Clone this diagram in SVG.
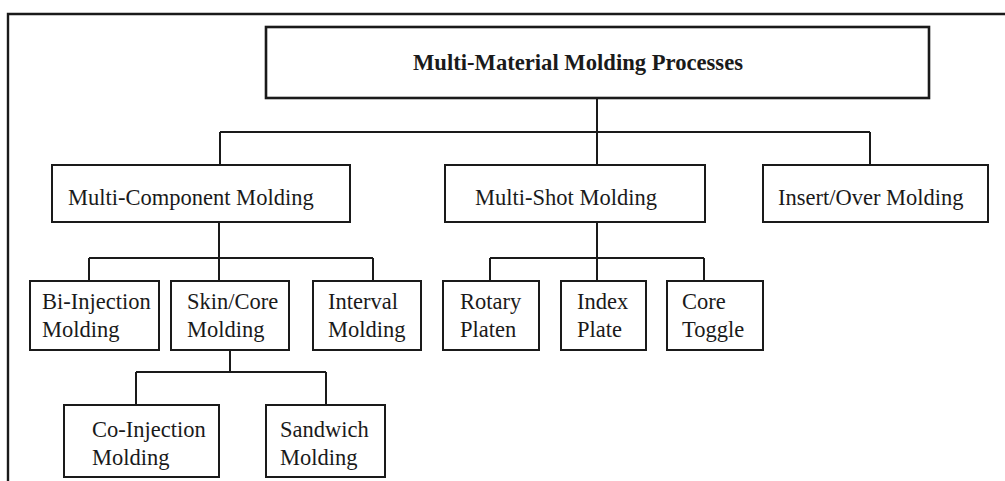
<svg xmlns="http://www.w3.org/2000/svg" width="1005" height="481" viewBox="0 0 1005 481">
  <style>
    .box { fill: #ffffff; stroke: #1a1a1a; stroke-width: 2; }
    .title-box { fill: #ffffff; stroke: #1a1a1a; stroke-width: 2.6; }
    .wire { fill: none; stroke: #1a1a1a; stroke-width: 2; }
    .frame { fill: none; stroke: #1a1a1a; stroke-width: 2.4; }
    .label { font-family: "Liberation Serif", "Times New Roman", serif; font-size: 22.5px; fill: #1a1a1a; }
    .title { font-family: "Liberation Serif", "Times New Roman", serif; font-size: 24px; font-weight: bold; fill: #1a1a1a; }
  </style>
  <rect width="1005" height="481" fill="#ffffff"/>

  <!-- outer frame (top and left edges only) -->
  <path class="frame" d="M8,481 V14 H1005"/>

  <!-- connectors -->
  <g id="connectors">
    <path class="wire" d="M597,98 V132 M220,132 H870 M220,132 V165 M597,132 V165 M870,132 V165"/>
    <path class="wire" d="M219,222 V258 M89,258 H373 M89,258 V281 M219,258 V281 M373,258 V281"/>
    <path class="wire" d="M597,222 V258 M490,258 H704 M490,258 V281 M597,258 V281 M704,258 V281"/>
    <path class="wire" d="M230,350 V372 M136,372 H326 M136,372 V405 M326,372 V405"/>
  </g>

  <!-- root -->
  <g id="node-root">
    <rect class="title-box" x="266" y="27" width="663" height="71"/>
    <text class="title" x="413" y="70" textLength="330" lengthAdjust="spacingAndGlyphs">Multi-Material Molding Processes</text>
  </g>

  <!-- first level -->
  <g id="node-multi-component">
    <rect class="box" x="52" y="165" width="298" height="57"/>
    <text class="label" x="68" y="205">Multi-Component Molding</text>
  </g>
  <g id="node-multi-shot">
    <rect class="box" x="445" y="165" width="260" height="57"/>
    <text class="label" x="475" y="205">Multi-Shot Molding</text>
  </g>
  <g id="node-insert-over">
    <rect class="box" x="763" y="165" width="225" height="57"/>
    <text class="label" x="778" y="205">Insert/Over Molding</text>
  </g>

  <!-- second level -->
  <g id="node-bi-injection">
    <rect class="box" x="30" y="281" width="129" height="69"/>
    <text class="label" x="42" y="308.5">Bi-Injection<tspan x="42" y="336.5">Molding</tspan></text>
  </g>
  <g id="node-skin-core">
    <rect class="box" x="171" y="281" width="118" height="69"/>
    <text class="label" x="187" y="308.5">Skin/Core<tspan x="187" y="336.5">Molding</tspan></text>
  </g>
  <g id="node-interval">
    <rect class="box" x="313" y="281" width="108" height="69"/>
    <text class="label" x="328" y="308.5">Interval<tspan x="328" y="336.5">Molding</tspan></text>
  </g>
  <g id="node-rotary-platen">
    <rect class="box" x="443" y="281" width="96" height="69"/>
    <text class="label" x="460" y="308.5">Rotary<tspan x="460" y="336.5">Platen</tspan></text>
  </g>
  <g id="node-index-plate">
    <rect class="box" x="561" y="281" width="85" height="69"/>
    <text class="label" x="577" y="308.5">Index<tspan x="577" y="336.5">Plate</tspan></text>
  </g>
  <g id="node-core-toggle">
    <rect class="box" x="667" y="281" width="96" height="69"/>
    <text class="label" x="682" y="308.5">Core<tspan x="682" y="336.5">Toggle</tspan></text>
  </g>

  <!-- third level -->
  <g id="node-co-injection">
    <rect class="box" x="64" y="405" width="155" height="72"/>
    <text class="label" x="92" y="436.5">Co-Injection<tspan x="92" y="465">Molding</tspan></text>
  </g>
  <g id="node-sandwich">
    <rect class="box" x="266" y="405" width="119" height="72"/>
    <text class="label" x="280" y="436.5">Sandwich<tspan x="280" y="465">Molding</tspan></text>
  </g>
</svg>
